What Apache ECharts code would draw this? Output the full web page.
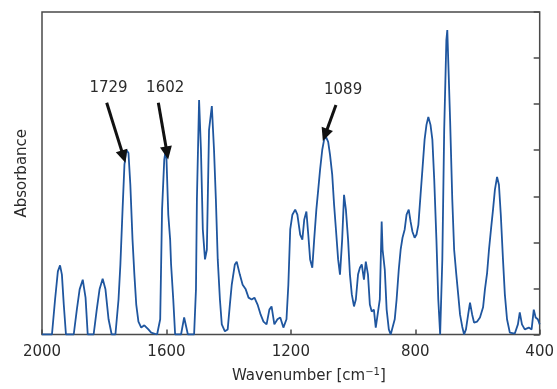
<!DOCTYPE html>
<html>
<head>
<meta charset="utf-8">
<script src="https://cdn.jsdelivr.net/npm/echarts@6/dist/echarts.min.js"></script>
<style>
  html, body { margin: 0; padding: 0; background: #fff; }
  #chart { width: 557px; height: 389px; }
</style>
</head>
<body>
<div id="chart"></div>
<script>
// spectrum: wavenumber [cm-1] and absorbance (axis runs 0..7)
var wavenumbers = [
  2000, 1968, 1958, 1949, 1942, 1936, 1930, 1923, 1898, 1888, 1879, 1869, 1860, 1853,
  1834, 1824, 1815, 1805, 1796, 1786, 1776, 1764, 1754, 1748, 1741, 1735, 1729, 1722,
  1716, 1709, 1703, 1697, 1690, 1681, 1671, 1658, 1649, 1630, 1620, 1614, 1607, 1601,
  1594, 1588, 1585, 1578, 1572, 1553, 1543, 1537, 1531, 1511, 1505, 1502, 1495, 1489,
  1483, 1476, 1470, 1463, 1454, 1447, 1441, 1435, 1428, 1422, 1412, 1403, 1396, 1390,
  1380, 1374, 1364, 1355, 1345, 1336, 1326, 1317, 1307, 1297, 1288, 1278, 1269, 1262,
  1253, 1243, 1234, 1224, 1214, 1208, 1202, 1195, 1186, 1179, 1170, 1163, 1157, 1150,
  1144, 1138, 1131, 1125, 1118, 1112, 1106, 1099, 1093, 1087, 1080, 1074, 1067, 1061,
  1055, 1048, 1042, 1035, 1029, 1023, 1016, 1010, 1004, 997, 991, 984, 978, 972,
  965, 959, 952, 946, 940, 933, 927, 921, 914, 908, 905, 898, 892, 885,
  879, 873, 866, 860, 853, 847, 841, 834, 828, 821, 815, 809, 802, 796,
  790, 783, 777, 770, 764, 758, 751, 745, 739, 732, 726, 720, 713, 707,
  700, 697, 694, 688, 681, 675, 668, 662, 656, 649, 643, 637, 630, 624,
  617, 611, 601, 592, 582, 576, 569, 563, 556, 550, 544, 537, 531, 525,
  518, 512, 505, 496, 480, 470, 464, 457, 448, 435, 426, 419, 413, 406, 400
];
var absorbance = [
  0, 0, 0.76, 1.37, 1.50, 1.30, 0.65, 0, 0, 0.54, 0.98, 1.19, 0.80, 0,
  0, 0.54, 0.98, 1.21, 0.98, 0.33, 0, 0, 0.76, 1.52, 2.71, 3.68, 4.01, 3.94,
  3.25, 2.06, 1.30, 0.65, 0.28, 0.15, 0.20, 0.11, 0.04, 0, 0.33, 2.71, 3.79, 4.07,
  2.60, 2.06, 1.52, 0.76, 0, 0, 0.37, 0.33, 0, 0, 0.98, 2.93, 5.09, 4.01,
  2.28, 1.63, 1.84, 4.44, 4.96, 4.01, 2.93, 1.63, 0.76, 0.22, 0.07, 0.11, 0.65, 1.08,
  1.52, 1.58, 1.30, 1.08, 0.98, 0.80, 0.76, 0.80, 0.65, 0.43, 0.28, 0.22, 0.54, 0.61,
  0.22, 0.33, 0.37, 0.15, 0.33, 1.08, 2.28, 2.60, 2.71, 2.60, 2.17, 2.06, 2.49, 2.67,
  2.17, 1.63, 1.45, 2.06, 2.71, 3.14, 3.58, 4.01, 4.23, 4.29, 4.18, 3.90, 3.47, 2.82,
  2.28, 1.63, 1.30, 2.06, 3.03, 2.71, 2.06, 1.30, 0.87, 0.61, 0.76, 1.30, 1.45, 1.52,
  1.19, 1.58, 1.30, 0.65, 0.50, 0.54, 0.15, 0.11, 0.76, 2.45, 1.84, 1.41, 0.54, 0.11,
  0, 0, 0.33, 0.76, 1.41, 1.84, 2.10, 2.28, 2.60, 2.71, 2.45, 2.23, 2.10, 2.17,
  2.38, 3.03, 3.58, 4.23, 4.55, 4.72, 4.55, 4.23, 3.36, 2.06, 0.76, 0, 1.63, 4.44,
  6.39, 6.61, 5.96, 4.66, 2.93, 1.84, 1.30, 0.87, 0.43, 0.17, 0, 0.11, 0.43, 0.69,
  0.43, 0.26, 0.28, 0.37, 0.59, 0.98, 1.34, 1.84, 2.32, 2.71, 3.14, 3.42, 3.25, 2.60,
  1.63, 0.87, 0.33, 0.04, 0.02, 0.22, 0.48, 0.22, 0.11, 0.15, 0.11, 0.54, 0.37, 0.33, 0.22
];

var xTicks = [2000, 1600, 1200, 800, 400];

// peak annotations: label, label position, arrow tail and tip
var peakLabels = ['1729', '1602', '1089'];
var labelAt = [[1786, 5.35], [1604, 5.35], [1032, 5.31]];
var arrowFrom = [[1792, 5.03], [1626, 5.03], [1055, 4.98]];
var arrowTo = [[1738, 3.86], [1598, 3.94], [1090, 4.33]];

var spectrum = wavenumbers.map(function (w, i) { return [w, absorbance[i]]; });

var textColor = '#2b2b2b';
var font = 'DejaVu Sans';

var chart = echarts.init(document.getElementById('chart'));
chart.setOption({
  animation: false,
  backgroundColor: '#fff',
  grid: {
    left: 42, right: 14, top: 12, bottom: 54,
    show: true, borderColor: '#4a4a4a', borderWidth: 1.5
  },
  xAxis: {
    type: 'value',
    inverse: true,
    min: 400, max: 2000, interval: 400,
    name: 'Wavenumber [cm{sup|\u22121}]',
    nameLocation: 'middle',
    nameGap: 33,
    nameTextStyle: {
      color: textColor, fontFamily: font, fontSize: 15, padding: [0, 0, 0, 36],
      rich: { sup: { fontSize: 10, fontFamily: font, color: textColor, padding: [0, 0, 8, 0] } }
    },
    axisLine: { show: false },
    axisTick: { inside: true, length: 5, lineStyle: { color: '#4a4a4a', width: 1.5 } },
    axisLabel: {
      color: textColor, fontFamily: font, fontSize: 15, margin: 10,
      formatter: function (v) { return xTicks.indexOf(v) >= 0 ? String(v) : ''; }
    },
    splitLine: { show: false }
  },
  yAxis: [{
    type: 'value',
    min: 0, max: 7, interval: 1,
    position: 'left',
    name: 'Absorbance',
    nameLocation: 'middle',
    nameGap: 12,
    nameTextStyle: { color: textColor, fontFamily: font, fontSize: 15 },
    axisLine: { show: false },
    axisTick: { show: false },
    axisLabel: { show: false },
    splitLine: { show: false }
  }, {
    type: 'value',
    min: 0, max: 7, interval: 1,
    position: 'right',
    axisLine: { show: false },
    axisTick: { inside: true, length: 6, lineStyle: { color: '#4a4a4a', width: 1.5 } },
    axisLabel: { show: false },
    splitLine: { show: false }
  }],
  series: [{
    type: 'line',
    data: spectrum,
    showSymbol: false,
    symbol: 'none',
    lineStyle: { color: '#1f569f', width: 1.8 },
    markLine: {
      silent: true,
      symbol: ['none', 'triangle'],
      symbolSize: [12, 13],
      lineStyle: { color: '#111', width: 3, type: 'solid' },
      itemStyle: { color: '#111' },
      label: { show: false },
      data: arrowFrom.map(function (p, i) {
        return [{ coord: p }, { coord: arrowTo[i] }];
      })
    },
    markPoint: {
      silent: true,
      symbol: 'circle',
      symbolSize: 1,
      itemStyle: { color: 'rgba(0,0,0,0)' },
      label: {
        show: true, position: 'inside',
        color: textColor, fontFamily: font, fontSize: 15,
        formatter: function (p) { return p.name; }
      },
      data: labelAt.map(function (p, i) {
        return { name: peakLabels[i], coord: p };
      })
    }
  }]
});
</script>
</body>
</html>
